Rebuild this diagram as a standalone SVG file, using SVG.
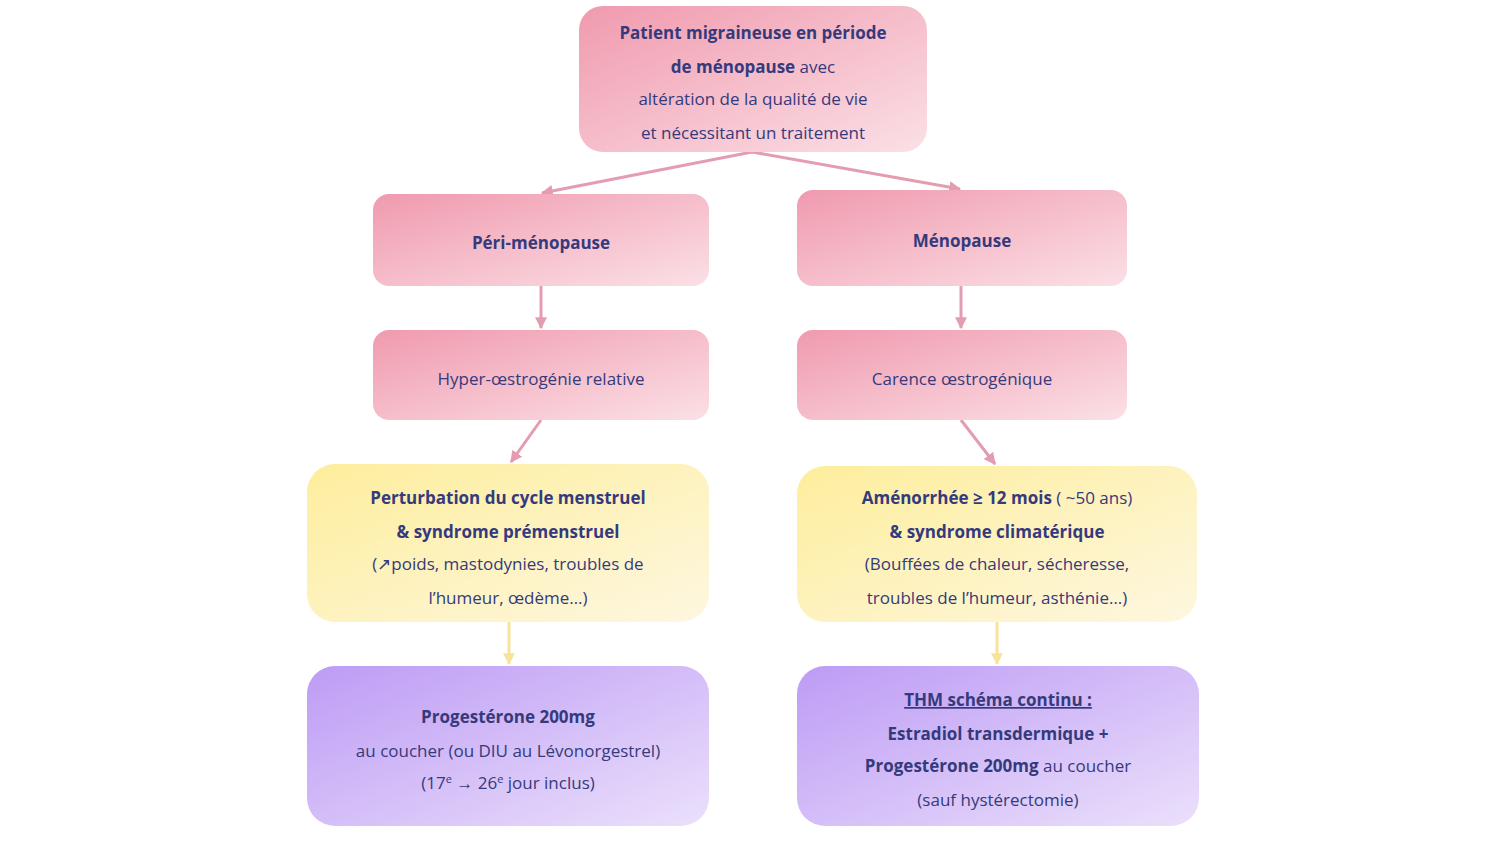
<svg xmlns="http://www.w3.org/2000/svg" width="1507" height="841" viewBox="0 0 1507 841">
<defs>
<linearGradient id="gp" x1="0" y1="0" x2="1" y2="1"><stop offset="0" stop-color="#f09aae"/><stop offset="1" stop-color="#fbe0e6"/></linearGradient>
<linearGradient id="gy" x1="0" y1="0" x2="1" y2="1"><stop offset="0" stop-color="#fdee9c"/><stop offset="1" stop-color="#fdf7e0"/></linearGradient>
<linearGradient id="gv" x1="0" y1="0" x2="1" y2="1"><stop offset="0" stop-color="#bd9bf5"/><stop offset="1" stop-color="#ebe0fb"/></linearGradient>
<marker id="ap" viewBox="0 0 10 10" refX="9" refY="5" markerWidth="4" markerHeight="4" orient="auto"><path d="M0,0L10,5L0,10z" fill="#e39cb0"/></marker>
<marker id="ay" viewBox="0 0 10 10" refX="9" refY="5" markerWidth="4" markerHeight="4" orient="auto"><path d="M0,0L10,5L0,10z" fill="#f7e49a"/></marker>
</defs>
<style>
text{font-family:"Open Sans","Liberation Sans",sans-serif;font-size:17px;fill:#353a7c;text-anchor:middle}
.b{font-weight:bold}
.cp{stroke:#e39cb0;stroke-width:3;fill:none;marker-end:url(#ap)}
.cy{stroke:#f7e49a;stroke-width:3;fill:none;marker-end:url(#ay)}
</style>
<g id="connectors">
<path class="cp" d="M752,152L542,193"/>
<path class="cp" d="M752,152L960,189"/>
<path class="cp" d="M541,286V328"/>
<path class="cp" d="M961,286V328"/>
<path class="cp" d="M541,420L511,462"/>
<path class="cp" d="M961,420L995,464"/>
<path class="cy" d="M509,622V664"/>
<path class="cy" d="M997,622V664"/>
</g>
<g id="n1"><rect x="579" y="6" width="348" height="146" rx="24" fill="url(#gp)"/>
<text x="753" y="39"><tspan class="b">Patient migraineuse en période</tspan></text>
<text x="753" y="73"><tspan class="b">de ménopause</tspan> avec</text>
<text x="753" y="105">altération de la qualité de vie</text>
<text x="753" y="139">et nécessitant un traitement</text></g>
<g id="n2"><rect x="373" y="194" width="336" height="92" rx="16" fill="url(#gp)"/><text x="541" y="249" class="b">Péri-ménopause</text></g>
<g id="n3"><rect x="797" y="190" width="330" height="96" rx="16" fill="url(#gp)"/><text x="962" y="247" class="b">Ménopause</text></g>
<g id="n4"><rect x="373" y="330" width="336" height="90" rx="16" fill="url(#gp)"/><text x="541" y="385">Hyper-œstrogénie relative</text></g>
<g id="n5"><rect x="797" y="330" width="330" height="90" rx="16" fill="url(#gp)"/><text x="962" y="385">Carence œstrogénique</text></g>
<g id="n6"><rect x="307" y="464" width="402" height="158" rx="28" fill="url(#gy)"/>
<text x="508" y="504" class="b">Perturbation du cycle menstruel</text>
<text x="508" y="538" class="b">&amp; syndrome prémenstruel</text>
<text x="508" y="570">(↗poids, mastodynies, troubles de</text>
<text x="508" y="604">l’humeur, œdème…)</text></g>
<g id="n7"><rect x="797" y="466" width="400" height="156" rx="28" fill="url(#gy)"/>
<text x="997" y="504"><tspan class="b">Aménorrhée ≥ 12 mois</tspan> ( ~50 ans)</text>
<text x="997" y="538" class="b">&amp; syndrome climatérique</text>
<text x="997" y="570">(Bouffées de chaleur, sécheresse,</text>
<text x="997" y="604">troubles de l’humeur, asthénie…)</text></g>
<g id="n8"><rect x="307" y="666" width="402" height="160" rx="28" fill="url(#gv)"/>
<text x="508" y="723" class="b">Progestérone 200mg</text>
<text x="508" y="757">au coucher (ou DIU au Lévonorgestrel)</text>
<text x="508" y="789">(17<tspan font-size="11" dy="-6">e</tspan><tspan dy="6"> → 26</tspan><tspan font-size="11" dy="-6">e</tspan><tspan dy="6"> jour inclus)</tspan></text></g>
<g id="n9"><rect x="797" y="666" width="402" height="160" rx="28" fill="url(#gv)"/>
<text x="998" y="706" class="b" text-decoration="underline">THM schéma continu :</text>
<text x="998" y="740" class="b">Estradiol transdermique +</text>
<text x="998" y="772"><tspan class="b">Progestérone 200mg</tspan> au coucher</text>
<text x="998" y="806">(sauf hystérectomie)</text></g>
</svg>
